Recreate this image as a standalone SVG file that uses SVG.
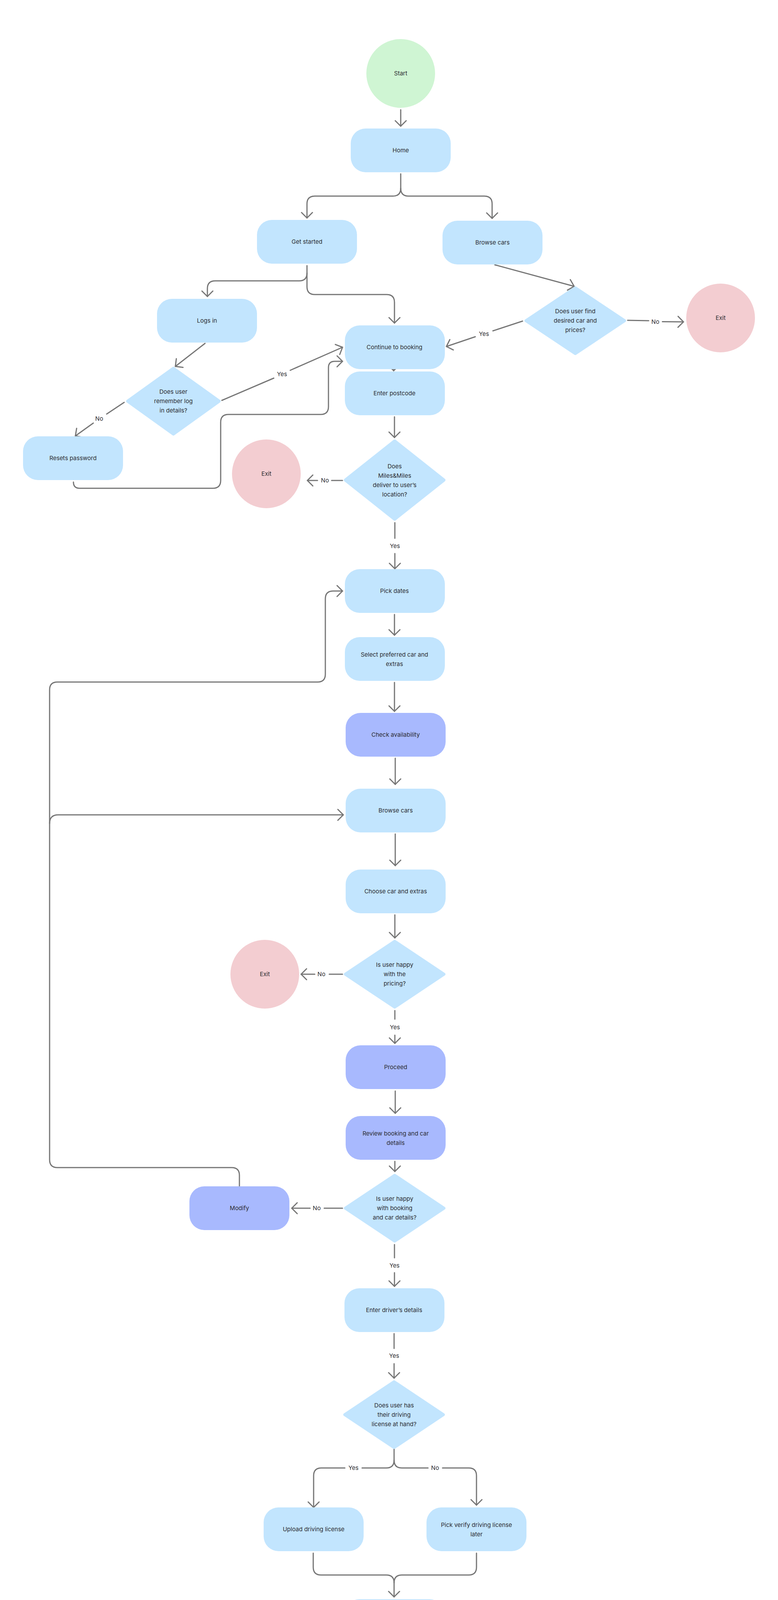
<svg xmlns="http://www.w3.org/2000/svg" width="1992" height="4829" viewBox="0 0 1992 4829">
<style>
.box{fill:#C2E5FE}
.pbox{fill:#A8B9FE}
.start{fill:#CFF5D3}
.exit{fill:#F3CDD1}
.dia{fill:#C2E5FE;stroke:#C2E5FE;stroke-width:8;stroke-linejoin:round}
.conn{fill:none;stroke:#757575;stroke-width:3;stroke-linecap:round;stroke-linejoin:round}
.arr{marker-end:url(#ah)}
.t{font-family:Inter,"Liberation Sans",sans-serif;font-size:15px;fill:#2B2B30;text-anchor:middle}
</style>
<defs>
<marker id="ah" viewBox="-17 -17 20 34" refX="0" refY="0" markerWidth="20" markerHeight="34" markerUnits="userSpaceOnUse" orient="auto">
<path d="M-14,-14 L0,0 L-14,14" fill="none" stroke="#757575" stroke-width="3" stroke-linecap="round" stroke-linejoin="round"/>
</marker>
</defs>
<rect width="1992" height="4829" fill="#FFFFFF"/>

<g id="connectors">
<path class="conn arr" d="M1026,281 V323"/>
<path class="conn arr" d="M1026,445 V482 Q1026,502 1006,502 H806 Q786,502 786,522 V558"/>
<path class="conn arr" d="M1026,482 Q1026,502 1046,502 H1240 Q1260,502 1260,522 V559"/>
<path class="conn arr" d="M786,680 V699 Q786,719 766,719 H551 Q531,719 531,739 V759"/>
<path class="conn arr" d="M786,699 V734 Q786,754 806,754 H990 Q1010,754 1010,774 V827"/>
<path class="conn arr" d="M1267,678 L1470,733"/>
<path class="conn" d="M1338,822 L1262,847"/>
<path class="conn arr" d="M1217,862 L1143,887"/>
<path class="conn" d="M1607,820 L1661,821"/>
<path class="conn arr" d="M1696,823.5 L1750,824"/>
<path class="conn arr" d="M525,879 L449,938"/>
<path class="conn" d="M568,1025 L701,968"/>
<path class="conn arr" d="M743,948 L877,889"/>
<path class="conn" d="M318,1030 L273,1060"/>
<path class="conn arr" d="M239,1083 L193,1116"/>
<path class="conn arr" d="M188,1234 V1234 Q188,1250 204,1250 H545 Q565,1250 565,1230 V1081 Q565,1061 585,1061 H821 Q841,1061 841,1041 V941 Q841,925 857,925 H877"/>
<path class="conn arr" d="M1008,936 V949"/>
<path class="conn arr" d="M1010,1067 V1120"/>
<path class="conn" d="M877,1230 H849"/>
<path class="conn arr" d="M813,1230 H787"/>
<path class="conn" d="M1011,1338 V1378"/>
<path class="conn arr" d="M1011,1417 V1456"/>
<path class="conn arr" d="M1010,1573 V1626"/>
<path class="conn arr" d="M1010,1747 V1821"/>
<path class="conn arr" d="M1012,1941 V2008"/>
<path class="conn arr" d="M1012,2135 V2216"/>
<path class="conn arr" d="M1011,2342 V2401"/>
<path class="conn" d="M877,2494 H843"/>
<path class="conn arr" d="M806,2494 H771"/>
<path class="conn" d="M1011,2587 V2609"/>
<path class="conn arr" d="M1011,2650 V2671"/>
<path class="conn arr" d="M1012,2793 V2850"/>
<path class="conn arr" d="M1011,2973 V2999"/>
<path class="conn" d="M877,3093 H830"/>
<path class="conn arr" d="M794,3093 H747"/>
<path class="conn" d="M1010,3186 V3220"/>
<path class="conn arr" d="M1010,3258 V3293"/>
<path class="conn" d="M613,3037 V3009 Q613,2989 593,2989 H147 Q127,2989 127,2969 V1766 Q127,1746 147,1746 H813 Q833,1746 833,1726 V1533 Q833,1513 853,1513 H877" marker-end="url(#ah)"/>
<path class="conn arr" d="M127,2108 Q127,2086 149,2086 H879"/>
<path class="conn" d="M1009,3414 V3452"/>
<path class="conn arr" d="M1009,3491 V3528"/>
<path class="conn" d="M1009,3709 V3738 Q1009,3758 989,3758 H927"/>
<path class="conn arr" d="M883,3758 H823 Q803,3758 803,3778 V3859"/>
<path class="conn" d="M1009,3738 Q1009,3758 1029,3758 H1096"/>
<path class="conn arr" d="M1133,3758 H1200 Q1220,3758 1220,3778 V3853"/>
<path class="conn" d="M802,3976 V4012 Q802,4032 822,4032 H989 Q1009,4032 1009,4052"/>
<path class="conn arr" d="M1220,3976 V4012 Q1220,4032 1200,4032 H1029 Q1009,4032 1009,4052 V4088"/>
<path class="conn arr" d="M1009,4211 V4280"/>
<path class="conn arr" d="M1009,4401 V4505"/>
<text class="t" x="1239" y="860">Yes</text>
<text class="t" x="1678" y="829">No</text>
<text class="t" x="722" y="963">Yes</text>
<text class="t" x="254" y="1077">No</text>
<text class="t" x="832" y="1235">No</text>
<text class="t" x="1011" y="1403">Yes</text>
<text class="t" x="823" y="2499">No</text>
<text class="t" x="1011" y="2635">Yes</text>
<text class="t" x="811" y="3098">No</text>
<text class="t" x="1010" y="3245">Yes</text>
<text class="t" x="1009" y="3476">Yes</text>
<text class="t" x="905" y="3763">Yes</text>
<text class="t" x="1114" y="3763">No</text>
</g>

<g id="start"><circle class="start" cx="1026" cy="188" r="88"/><text class="t" x="1026" y="193">Start</text></g>
<g id="home"><rect class="box" x="898" y="329" width="256" height="112" rx="38"/><text class="t" x="1026" y="390">Home</text></g>
<g id="get-started"><rect class="box" x="658" y="563" width="256" height="112" rx="38"/><text class="t" x="786" y="624">Get started</text></g>
<g id="browse-cars-1"><rect class="box" x="1133" y="565" width="256" height="112" rx="38"/><text class="t" x="1261" y="626">Browse cars</text></g>
<g id="find-car"><polygon class="dia" points="1347,821 1473,737 1599,821 1473,905"/><text class="t" x="1473" y="802">Does user find</text><text class="t" x="1473" y="826">desired car and</text><text class="t" x="1473" y="850">prices?</text></g>
<g id="exit-1"><circle class="exit" cx="1845" cy="814" r="88"/><text class="t" x="1845" y="819">Exit</text></g>
<g id="logs-in"><rect class="box" x="402" y="765" width="256" height="112" rx="38"/><text class="t" x="530" y="826">Logs in</text></g>
<g id="continue-booking"><rect class="box" x="883" y="833" width="256" height="112" rx="38"/><text class="t" x="1010" y="894">Continue to booking</text></g>
<g id="remember"><polygon class="dia" points="327,1027 444,943 561,1027 444,1111"/><text class="t" x="444" y="1008">Does user</text><text class="t" x="444" y="1032">remember log</text><text class="t" x="444" y="1056">in details?</text></g>
<g id="enter-postcode"><rect class="box" x="883" y="951" width="256" height="112" rx="38"/><text class="t" x="1010" y="1012">Enter postcode</text></g>
<g id="resets-password"><rect class="box" x="59" y="1117" width="256" height="112" rx="38"/><text class="t" x="187" y="1178">Resets password</text></g>
<g id="deliver"><polygon class="dia" points="884.5,1229 1010.5,1129 1136.5,1229 1010.5,1329"/><text class="t" x="1010.5" y="1199">Does</text><text class="t" x="1010.5" y="1223">Miles&amp;Miles</text><text class="t" x="1010.5" y="1247">deliver to user’s</text><text class="t" x="1010.5" y="1271">location?</text></g>
<g id="exit-2"><circle class="exit" cx="682" cy="1213" r="88"/><text class="t" x="682" y="1218">Exit</text></g>
<g id="pick-dates"><rect class="box" x="883" y="1457" width="256" height="112" rx="38"/><text class="t" x="1010" y="1518">Pick dates</text></g>
<g id="select-car"><rect class="box" x="883" y="1631" width="256" height="112" rx="38"/><text class="t" x="1010" y="1681">Select preferred car and</text><text class="t" x="1010" y="1705">extras</text></g>
<g id="check-availability"><rect class="pbox" x="885" y="1825" width="256" height="112" rx="38"/><text class="t" x="1013" y="1886">Check availability</text></g>
<g id="browse-cars-2"><rect class="box" x="885" y="2019" width="256" height="112" rx="38"/><text class="t" x="1013" y="2080">Browse cars</text></g>
<g id="choose-car"><rect class="box" x="885" y="2226" width="256" height="112" rx="38"/><text class="t" x="1013" y="2287">Choose car and extras</text></g>
<g id="happy-pricing"><polygon class="dia" points="884.5,2494 1010.5,2410 1136.5,2494 1010.5,2578"/><text class="t" x="1010.5" y="2475">Is user happy</text><text class="t" x="1010.5" y="2499">with the</text><text class="t" x="1010.5" y="2523">pricing?</text></g>
<g id="exit-3"><circle class="exit" cx="678" cy="2494" r="88"/><text class="t" x="678" y="2499">Exit</text></g>
<g id="proceed"><rect class="pbox" x="885" y="2676" width="256" height="112" rx="38"/><text class="t" x="1013" y="2737">Proceed</text></g>
<g id="review"><rect class="pbox" x="885" y="2857" width="256" height="112" rx="38"/><text class="t" x="1013" y="2907">Review booking and car</text><text class="t" x="1013" y="2931">details</text></g>
<g id="happy-booking"><polygon class="dia" points="884.5,3093 1010.5,3009 1136.5,3093 1010.5,3177"/><text class="t" x="1010.5" y="3074">Is user happy</text><text class="t" x="1010.5" y="3098">with booking</text><text class="t" x="1010.5" y="3122">and car details?</text></g>
<g id="modify"><rect class="pbox" x="485" y="3037" width="256" height="112" rx="38"/><text class="t" x="613" y="3098">Modify</text></g>
<g id="driver-details"><rect class="box" x="882" y="3298" width="256" height="112" rx="38"/><text class="t" x="1009" y="3359">Enter driver’s details</text></g>
<g id="license"><polygon class="dia" points="883,3621.5 1009,3537.5 1135,3621.5 1009,3705.5"/><text class="t" x="1009" y="3603">Does user has</text><text class="t" x="1009" y="3627">their driving</text><text class="t" x="1009" y="3651">license at hand?</text></g>
<g id="upload-license"><rect class="box" x="675" y="3859" width="256" height="112" rx="38"/><text class="t" x="803" y="3920">Upload driving license</text></g>
<g id="verify-later"><rect class="box" x="1092" y="3859" width="256" height="112" rx="38"/><text class="t" x="1220" y="3909">Pick verify driving license</text><text class="t" x="1220" y="3933">later</text></g>
<g id="payment"><rect class="box" x="882" y="4094" width="256" height="112" rx="38"/><text class="t" x="1009" y="4155">Payment details</text></g>
<g id="confirmation"><rect class="box" x="882" y="4285" width="256" height="112" rx="38"/><text class="t" x="1009" y="4346">Confirmation details</text></g>
<g id="exit-final"><circle class="start" cx="1010" cy="4599" r="88"/><text class="t" x="1010" y="4604">Exit</text></g>
</svg>
